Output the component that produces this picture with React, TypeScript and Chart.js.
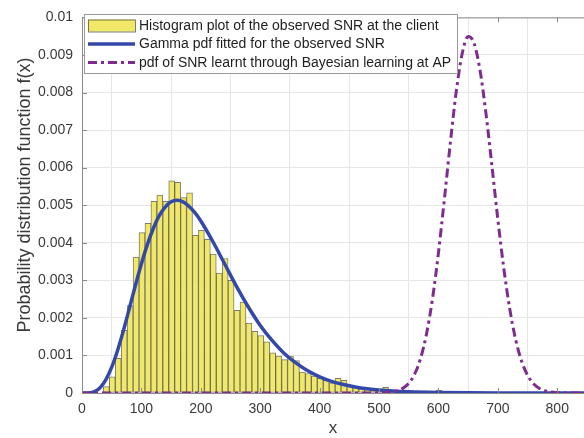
import React, { useEffect, useRef } from "react";
import { Chart, registerables } from "chart.js";

Chart.register(...registerables);

// Histogram of observed SNR (bin centres, density)
const binCenters = [
  41, 51, 61, 71, 81, 91, 101, 111, 121, 131, 141, 151, 161, 171, 181, 191, 201, 211, 221, 231,
  241, 251, 261, 271, 281, 291, 301, 311, 321, 331, 341, 351, 361, 371, 381, 391, 401, 411, 421, 431,
  441, 451, 461, 471, 481, 491, 501, 511, 521, 601, 671,
];
const binDensity = [
  0.00017, 0.00043, 0.00092, 0.00167, 0.00233, 0.00362, 0.00427, 0.00452, 0.0051, 0.00527,
  0.0051, 0.00565, 0.00561, 0.0052, 0.00533, 0.0042, 0.00433, 0.00409, 0.0037, 0.00319,
  0.00358, 0.003, 0.0022, 0.00242, 0.00186, 0.00164, 0.00153, 0.00136, 0.00107, 0.00098,
  0.00089, 0.00098, 0.00086, 0.00056, 0.00052, 0.00045, 0.00039, 0.00034, 0.00027, 0.00039,
  0.00034, 0.00021, 0.00017, 0.00014, 0.0001, 0.00008, 0.00006, 0.00015, 0.00003, 0.00007, 0.00003,
];

// Gamma pdf fitted to the observed SNR
const gammaX = [
  0, 10, 20, 30, 40, 50, 60, 70, 80, 90, 100, 110, 120, 130, 140, 150, 160, 170, 180, 190, 200,
  220, 240, 260, 280, 300, 320, 340, 360, 380, 400, 420, 440, 460, 480, 500, 550, 600, 700, 845,
];
const gammaPdf = [
  0, 0.000002, 0.0000315, 0.000134, 0.000349, 0.000688, 0.00114, 0.00168, 0.00227, 0.00287,
  0.00344, 0.00395, 0.00438, 0.00472, 0.00495, 0.00509, 0.00513, 0.00509, 0.00497, 0.0048,
  0.00458, 0.00404, 0.00344, 0.00284, 0.00229, 0.0018, 0.0014, 0.00106, 0.0008, 0.00059,
  0.00043, 0.00031, 0.000225, 0.00016, 0.000113, 0.000079, 0.000031, 0.000012, 0.000001, 0,
];

// SNR pdf learnt at the AP
const bayesX = [
  0, 100, 200, 300, 400, 500, 510, 520, 530, 540, 550, 560, 570, 580, 590, 600, 610, 620, 630,
  640, 650, 660, 670, 680, 690, 700, 710, 720, 730, 740, 750, 760, 770, 780, 790, 800, 810, 845,
];
const bayesPdf = [
  0, 0, 0, 0, 0, 0, 0.0000088, 0.0000228, 0.0000549, 0.000123, 0.000259, 0.000507, 0.000926,
  0.00158, 0.00251, 0.00373, 0.00516, 0.00666, 0.00803, 0.00904, 0.00949, 0.00931, 0.00859,
  0.00744, 0.00605, 0.00462, 0.00332, 0.00224, 0.00142, 0.000845, 0.000472, 0.000248,
  0.000122, 0.0000568, 0.0000247, 0.00001, 0.000004, 0,
];

const xTicks = [0, 100, 200, 300, 400, 500, 600, 700, 800];
const xTickLabels = ["0", "100", "200", "300", "400", "500", "600", "700", "800"];
const yTicks = [0, 0.001, 0.002, 0.003, 0.004, 0.005, 0.006, 0.007, 0.008, 0.009, 0.01];
const yTickLabels = ["0", "0.001", "0.002", "0.003", "0.004", "0.005", "0.006", "0.007", "0.008", "0.009", "0.01"];

const seriesLabels = [
  "Histogram plot of the observed SNR at the client",
  "Gamma pdf fitted for the observed SNR",
  "pdf of SNR learnt through Bayesian learning at AP",
];
const xTitle = "x";
const yTitle = "Probability distribution function f(x)";

const FONT = '"Liberation Sans", Arial, Helvetica, sans-serif';
const TEXT = "#3a3a3a";
const AXIS = "#8a8a8a";
const GRID = "#e6e6e6";
const HIST_FILL = "rgb(240, 232, 102)";
const HIST_EDGE = "rgba(70, 70, 50, 0.7)";
const BLUE = "rgb(52, 72, 170)";
const PURPLE = "rgb(126, 45, 142)";
const DASH_DOT = [9, 4, 3, 4];

const axesDecor = {
  id: "axesDecor",
  afterDraw(chart: any) {
    const { ctx, chartArea: a, scales } = chart;
    const xs = scales.x;
    const ys = scales.y;
    ctx.save();

    // box top edge and inward tick marks
    ctx.strokeStyle = AXIS;
    ctx.lineWidth = 1;
    ctx.beginPath();
    ctx.moveTo(a.left, a.top + 0.5);
    ctx.lineTo(a.right, a.top + 0.5);
    for (const t of xTicks) {
      const px = Math.round(xs.getPixelForValue(t)) + 0.5;
      ctx.moveTo(px, a.bottom);
      ctx.lineTo(px, a.bottom - 5);
      ctx.moveTo(px, a.top);
      ctx.lineTo(px, a.top + 5);
    }
    for (const t of yTicks) {
      const py = Math.round(ys.getPixelForValue(t)) + 0.5;
      ctx.moveTo(a.left, py);
      ctx.lineTo(a.left + 5, py);
    }
    ctx.stroke();

    // axis titles
    ctx.fillStyle = TEXT;
    ctx.font = `17px ${FONT}`;
    ctx.textAlign = "center";
    ctx.textBaseline = "middle";
    ctx.fillText(xTitle, (a.left + a.right) / 2, 428);
    ctx.save();
    ctx.translate(25, 195);
    ctx.rotate(-Math.PI / 2);
    ctx.font = `18px ${FONT}`;
    ctx.fillText(yTitle, 0, 0);
    ctx.restore();

    // legend box
    const lx = 84;
    const ly = 14;
    const lw = 373;
    const lh = 59;
    ctx.fillStyle = "#ffffff";
    ctx.fillRect(lx, ly, lw, lh);
    ctx.strokeStyle = "#9a9a9a";
    ctx.strokeRect(lx + 0.5, ly + 0.5, lw, lh);

    const rows = [25.5, 44, 62.5];
    const sx0 = 88;
    const sx1 = 135;
    // histogram swatch
    ctx.fillStyle = HIST_FILL;
    ctx.fillRect(sx0, rows[0] - 6, sx1 - sx0, 12);
    ctx.strokeStyle = HIST_EDGE;
    ctx.strokeRect(sx0 + 0.5, rows[0] - 6 + 0.5, sx1 - sx0, 12);
    // gamma line swatch
    ctx.strokeStyle = BLUE;
    ctx.lineWidth = 3.5;
    ctx.beginPath();
    ctx.moveTo(sx0, rows[1]);
    ctx.lineTo(sx1, rows[1]);
    ctx.stroke();
    // bayes line swatch
    ctx.strokeStyle = PURPLE;
    ctx.lineWidth = 3;
    ctx.setLineDash(DASH_DOT);
    ctx.beginPath();
    ctx.moveTo(sx0, rows[2]);
    ctx.lineTo(sx1, rows[2]);
    ctx.stroke();
    ctx.setLineDash([]);

    ctx.fillStyle = "#1e1e1e";
    ctx.font = `14px ${FONT}`;
    ctx.textAlign = "left";
    ctx.textBaseline = "middle";
    seriesLabels.forEach((s, i) => ctx.fillText(s, 139, rows[i] + 0.5));

    ctx.restore();
  },
};

export default function App() {
  const canvasRef = useRef<HTMLCanvasElement | null>(null);

  useEffect(() => {
    const canvas = canvasRef.current;
    if (!canvas) return;
    const tickFont = { family: FONT, size: 14 };
    const chart = new Chart(canvas, {
      type: "bar",
      data: {
        datasets: [
          {
            type: "bar",
            label: seriesLabels[0],
            data: binCenters.map((x, i) => ({ x, y: binDensity[i] })),
            backgroundColor: HIST_FILL,
            borderColor: HIST_EDGE,
            borderWidth: 1,
            borderSkipped: false,
            barPercentage: 1,
            categoryPercentage: 1,
            order: 3,
          },
          {
            type: "line",
            label: seriesLabels[1],
            data: gammaX.map((x, i) => ({ x, y: gammaPdf[i] })),
            borderColor: BLUE,
            borderWidth: 3.5,
            pointRadius: 0,
            fill: false,
            cubicInterpolationMode: "monotone",
            order: 2,
          },
          {
            type: "line",
            label: seriesLabels[2],
            data: bayesX.map((x, i) => ({ x, y: bayesPdf[i] })),
            borderColor: PURPLE,
            borderWidth: 3,
            borderDash: DASH_DOT,
            pointRadius: 0,
            fill: false,
            cubicInterpolationMode: "monotone",
            order: 1,
          },
        ],
      } as any,
      options: {
        animation: false,
        responsive: false,
        maintainAspectRatio: false,
        layout: { padding: { top: 13, right: 0, bottom: 0, left: 0 } },
        plugins: { legend: { display: false }, tooltip: { enabled: false } },
        scales: {
          x: {
            type: "linear",
            min: 0,
            max: 845,
            offset: false,
            afterBuildTicks: (s: any) => {
              s.ticks = xTicks.map((v) => ({ value: v }));
            },
            afterFit: (s: any) => {
              s.height = 45;
            },
            ticks: {
              font: tickFont,
              color: TEXT,
              padding: 8,
              maxRotation: 0,
              autoSkip: false,
              callback: (_v: any, i: number) => xTickLabels[i],
            },
            grid: { color: GRID, drawTicks: false },
            border: { color: AXIS, width: 1 },
          },
          y: {
            type: "linear",
            min: 0,
            max: 0.01,
            afterBuildTicks: (s: any) => {
              s.ticks = yTicks.map((v) => ({ value: v }));
            },
            afterFit: (s: any) => {
              s.width = 82;
            },
            ticks: {
              font: tickFont,
              color: TEXT,
              padding: 9,
              autoSkip: false,
              callback: (_v: any, i: number) => yTickLabels[i],
            },
            grid: { color: GRID, drawTicks: false },
            border: { color: AXIS, width: 1 },
          },
        },
      } as any,
      plugins: [axesDecor],
    });
    return () => chart.destroy();
  }, []);

  return (
    <div style={{ position: "fixed", left: 0, top: 0, width: 584, height: 438, background: "#fff" }}>
      <canvas ref={canvasRef} width={584} height={438} style={{ display: "block" }} />
    </div>
  );
}
